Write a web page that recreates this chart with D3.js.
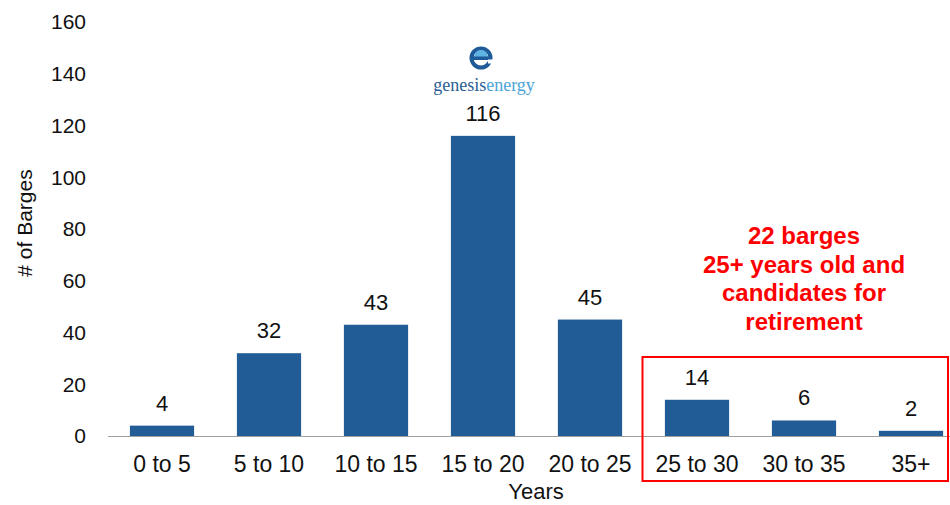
<!DOCTYPE html>
<html>
<head>
<meta charset="utf-8">
<script src="https://cdn.jsdelivr.net/npm/d3@7"></script>
<style>
    body { margin: 0; background: #fff; }
    text { font-family: "Liberation Sans", Arial, sans-serif; }
</style>
</head>
<body>
<div id="chart"></div>
<script>
// data
var categories = ["0 to 5", "5 to 10", "10 to 15", "15 to 20", "20 to 25", "25 to 30", "30 to 35", "35+"];
var barges = [4, 32, 43, 116, 45, 14, 6, 2];
var yTicks = [0, 20, 40, 60, 80, 100, 120, 140, 160];
var noteLines = ["22 barges", "25+ years old and", "candidates for", "retirement"];
var boxedCategories = ["25 to 30", "30 to 35", "35+"];

var width = 950, height = 505;

var svg = d3.select("#chart").append("svg")
    .attr("width", width)
    .attr("height", height);

var data = categories.map(function(c, i) { return {cat: c, value: barges[i]}; });

var x = d3.scaleBand()
    .domain(categories)
    .range([108.5, 964.5])
    .paddingInner(0.4)
    .paddingOuter(0.2);

var y = d3.scaleLinear()
    .domain([0, 160])
    .range([436, 22]);

// y tick labels (no axis line, no tick marks)
svg.append("g")
    .selectAll("text")
    .data(yTicks)
    .enter()
    .append("text")
    .attr("x", 86)
    .attr("y", function(d) { return y(d); })
    .attr("dy", "0.35em")
    .attr("text-anchor", "end")
    .style("font-size", "21px")
    .attr("fill", "#111")
    .text(function(d) { return d; });

// bars
svg.selectAll("rect.bar")
    .data(data)
    .enter()
    .append("rect")
    .attr("class", "bar")
    .attr("x", function(d) { return x(d.cat); })
    .attr("y", function(d) { return y(d.value); })
    .attr("width", x.bandwidth())
    .attr("height", function(d) { return y(0) - y(d.value); })
    .attr("fill", "#215c96");

// baseline
svg.append("line")
    .attr("x1", 108)
    .attr("x2", width)
    .attr("y1", y(0) + 0.5)
    .attr("y2", y(0) + 0.5)
    .attr("stroke", "#a0a0a0")
    .attr("stroke-width", 1.2);

// value labels
svg.selectAll("text.value")
    .data(data)
    .enter()
    .append("text")
    .attr("class", "value")
    .attr("x", function(d) { return x(d.cat) + x.bandwidth() / 2; })
    .attr("y", function(d) { return y(d.value) - 15; })
    .attr("text-anchor", "middle")
    .style("font-size", "22px")
    .attr("fill", "#111")
    .text(function(d) { return d.value; });

// x category labels
svg.selectAll("text.cat")
    .data(categories)
    .enter()
    .append("text")
    .attr("class", "cat")
    .attr("x", function(d) { return x(d) + x.bandwidth() / 2; })
    .attr("y", 472)
    .attr("text-anchor", "middle")
    .style("font-size", "23px")
    .attr("fill", "#111")
    .text(function(d) { return d; });

// axis titles
svg.append("text")
    .attr("x", 536)
    .attr("y", 499)
    .attr("text-anchor", "middle")
    .style("font-size", "22px")
    .attr("fill", "#111")
    .text("Years");

svg.append("text")
    .attr("transform", "translate(32,223) rotate(-90)")
    .attr("text-anchor", "middle")
    .style("font-size", "21px")
    .attr("fill", "#111")
    .text("# of Barges");

// red box round the old barges
var first = boxedCategories[0];
var boxLeft = x(first) - (x.step() - x.bandwidth()) / 2 - 1;
svg.append("rect")
    .attr("x", boxLeft)
    .attr("y", 357)
    .attr("width", 948 - boxLeft)
    .attr("height", 124)
    .attr("fill", "none")
    .attr("stroke", "#ff0000")
    .attr("stroke-width", 2);

// annotation
svg.append("g")
    .selectAll("text")
    .data(noteLines)
    .enter()
    .append("text")
    .attr("x", 804)
    .attr("y", function(d, i) { return 244 + i * 28.5; })
    .attr("text-anchor", "middle")
    .style("font-size", "24px")
    .style("font-weight", "bold")
    .attr("fill", "#ff0000")
    .text(function(d) { return d; });

// logo
var logo = svg.append("g").attr("transform", "translate(481,58)");
logo.append("circle")
    .attr("r", 9.5)
    .attr("fill", "none")
    .attr("stroke", "#1f5b98")
    .attr("stroke-width", 4);
logo.append("path")
    .attr("d", "M-7,-1 A7,7 0 0 1 7,-1 Z")
    .attr("fill", "#5fb3e3");
logo.append("rect")
    .attr("x", -9).attr("y", -1.5)
    .attr("width", 18).attr("height", 3.5)
    .attr("fill", "#1f5b98");
logo.append("rect")
    .attr("x", 7).attr("y", 1.5)
    .attr("width", 6).attr("height", 4)
    .attr("fill", "#fff");

var logoText = svg.append("text")
    .attr("x", 484)
    .attr("y", 91)
    .attr("text-anchor", "middle")
    .style("font-family", "'Liberation Serif', 'DejaVu Serif', serif")
    .style("font-size", "18px");
logoText.append("tspan").attr("fill", "#2a5e94").text("genesis");
logoText.append("tspan").attr("fill", "#4aa3d8").text("energy");
</script>
</body>
</html>
